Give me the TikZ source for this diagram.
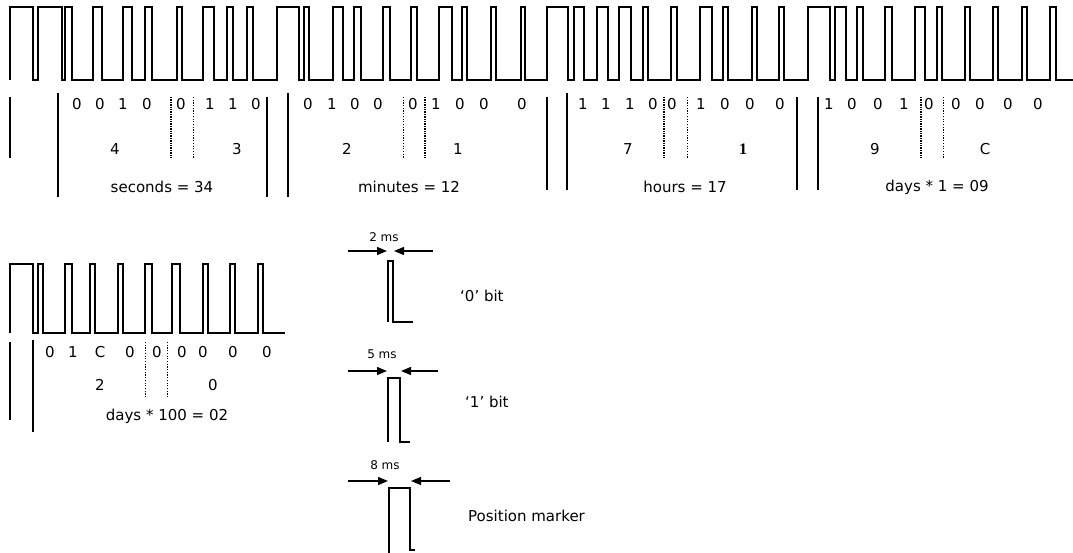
\documentclass[tikz,border=0pt]{standalone}
\usepackage{fontspec}
\setmainfont{DejaVu Sans}
\newfontfamily\serifb{Liberation Serif}
\usetikzlibrary{arrows.meta}
\begin{document}
\begin{tikzpicture}[x=1pt,y=-1pt,
  wave/.style={line width=1.9pt,line join=miter},
  thinbar/.style={line width=1.1pt},
  thickbar/.style={line width=2.6pt},
  dotbold/.style={line width=2.2pt,dash pattern=on 1.4pt off 1pt},
  dotthin/.style={line width=0.9pt,dash pattern=on 1.2pt off 1.5pt},
  bit/.style={inner sep=0pt,font=\fontsize{15}{18}\selectfont},
  lbl/.style={inner sep=0pt,font=\fontsize{15}{18}\selectfont},
  ms/.style={inner sep=0pt,font=\fontsize{12}{14}\selectfont},
  dim/.style={line width=1.3pt,-{Triangle[length=10pt,width=8pt]}},
]
\useasboundingbox (0,0) rectangle (1073,553);
% top waveform
\draw[wave] (10,80) \foreach \a/\b in {10/33,38/62,65/72,93/102,123/132,145/152,177/182,203/214,227/233,247/253,
  277/299,304/309,333/343,354/361,383/390,411/417,439/452,462/467,491/496,521/525,
  547/568,574/584,597/608,619/631,643/648,671/677,700/712,723/728,752/757,779/784,
  808/830,835/846,857/863,885/892,915/925,937/942,965/970,993/998,1022/1027,1050/1056}
  { -- (\a,80) -- (\a,7) -- (\b,7) -- (\b,80) } -- (1073,80);
% row 1 bars
\draw[thinbar] (10,97) -- (10,158);
\draw[thickbar] (58,93) -- (58,197);
\draw[thinbar] (267,97) -- (267,197);
\draw[thickbar] (288,93) -- (288,197);
\draw[thinbar] (547,97) -- (547,190);
\draw[thickbar] (567,93) -- (567,190);
\draw[thickbar] (797,97) -- (797,190);
\draw[thinbar] (818,97) -- (818,190);
% dotted separators
\draw[dotbold] (171,97) -- (171,158);
\draw[dotthin] (193,97) -- (193,158);
\draw[dotthin] (403,97) -- (403,158);
\draw[dotbold] (425,97) -- (425,158);
\draw[dotbold] (664,97) -- (664,158);
\draw[dotthin] (687,97) -- (687,158);
\draw[dotbold] (921,97) -- (921,158);
\draw[dotthin] (943,97) -- (943,158);
% row 1 bits
\foreach \x/\t [count=\i] in {77/0,100/0,123/1,147/0,181/0,210/1,233/1,256/0,
  308/0,332/1,355/0,378/0,413/0,436/1,460/0,484/0,522/0,
  583/1,606/1,630/1,653/0,672/0,701/1,725/0,750/0,780/0,
  829/1,852/0,878/0,904/1,929/0,956/0,980/0,1008/0,1038/0}
  \node[bit] (b\i) at (\x,104) {\t};
% row 1 digits
\node[bit] (d1) at (115,149) {4};
\node[bit] (d2) at (237,149) {3};
\node[bit] (d3) at (347,149) {2};
\node[bit] (d4) at (458,149) {1};
\node[bit] (d5) at (628,149) {7};
\node[bit,font=\fontsize{16}{18}\serifb\bfseries] (d6) at (743,149) {1};
\node[bit] (d7) at (875,149) {9};
\node[bit] (d8) at (985,149) {C};
% row 1 labels
\node[lbl] (n1) at (162,187) {seconds = 34};
\node[lbl] (n2) at (409,187) {minutes = 12};
\node[lbl] (n3) at (685,187) {hours = 17};
\node[lbl] (n4) at (937,187) {days * 1 = 09};
% bottom waveform
\draw[wave] (10,333) \foreach \a/\b in {10/33,38/43,65/72,90/95,118/123,145/152,172/180,203/208,230/235,258/263}
  { -- (\a,333) -- (\a,264) -- (\b,264) -- (\b,333) } -- (285,333);
\draw[thinbar] (10,342) -- (10,420);
\draw[thickbar] (33,340) -- (33,432);
\draw[dotthin] (145,342) -- (145,398);
\draw[dotthin] (167,342) -- (167,398);
\foreach \x/\t [count=\i] in {50/0,73/1,100/C,130/0,157/0,182/0,203/0,233/0,267/0}
  \node[bit] (c\i) at (\x,352) {\t};
\node[bit] (e1) at (100,385) {2};
\node[bit] (e2) at (213,385) {0};
\node[lbl] (n5) at (167,416) {days * 100 = 02};
% legend: 0 bit
\node[ms] (m0) at (384,237) {2 ms};
\coordinate (a0l) at (348,251); \coordinate (p0l) at (387,251);
\coordinate (a0r) at (433,251); \coordinate (p0r) at (394,251);
\draw[dim] (a0l) -- (p0l);
\draw[dim] (a0r) -- (p0r);
\draw[wave] (388,322) -- (388,261) -- (393,261) -- (393,322) -- (413,322);
\node[lbl,anchor=west] (t0) at (460,296) {`0' bit};
% legend: 1 bit
\node[ms] (m1) at (382,354) {5 ms};
\coordinate (a1l) at (348,371); \coordinate (p1l) at (387,371);
\coordinate (a1r) at (438,371); \coordinate (p1r) at (401,371);
\draw[dim] (a1l) -- (p1l);
\draw[dim] (a1r) -- (p1r);
\draw[wave] (388,442) -- (388,378) -- (400,378) -- (400,442) -- (410,442);
\node[lbl,anchor=west] (t1) at (465,402) {`1' bit};
% legend: position marker
\node[ms] (m2) at (385,465) {8 ms};
\coordinate (a2l) at (348,481); \coordinate (p2l) at (388,481);
\coordinate (a2r) at (450,481); \coordinate (p2r) at (411,481);
\draw[dim] (a2l) -- (p2l);
\draw[dim] (a2r) -- (p2r);
\draw[wave] (389,553) -- (389,488) -- (410,488) -- (410,550) -- (415,550);
\node[lbl,anchor=west] (t2) at (468,516) {Position marker};
\end{tikzpicture}
\end{document}
